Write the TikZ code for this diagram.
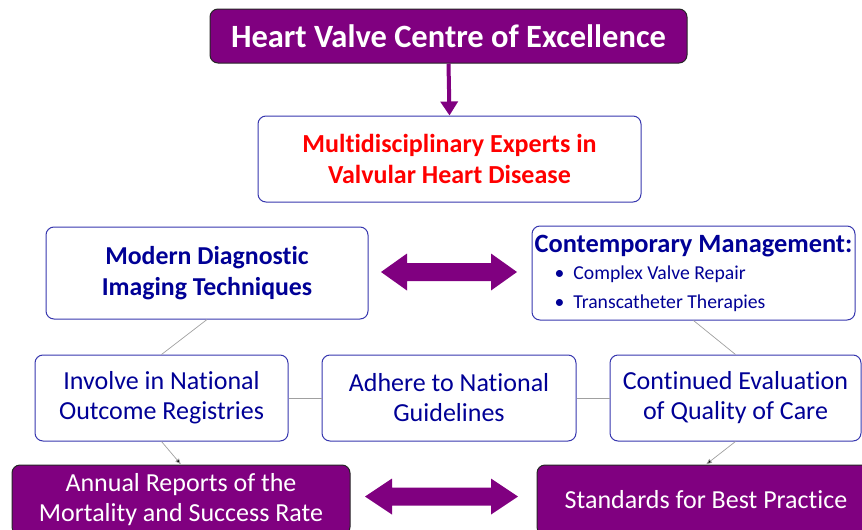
\documentclass[tikz,border=0pt]{standalone}
\usepackage{fontspec}
\setmainfont{Carlito}[Ligatures=NoCommon]
\usetikzlibrary{arrows.meta}
\definecolor{hvpurple}{RGB}{128,0,128}
\definecolor{hvnavy}{RGB}{0,0,150}
\definecolor{hvborder}{RGB}{55,55,175}
\definecolor{hvred}{RGB}{255,0,0}
\definecolor{hvline}{RGB}{160,160,160}
\tikzset{
  wbox/.style={draw=hvborder, line width=1pt, rounded corners=8pt, fill=white, align=center, text=hvnavy, inner sep=3pt},
  pbox/.style={draw=black!85, line width=1pt, rounded corners=8pt, fill=hvpurple, align=center, text=white, inner sep=3pt},
  link/.style={draw=hvline, line width=0.7pt},
  tolink/.style={draw=hvline, line width=0.7pt, -{Latex[length=6pt,width=5pt,fill=black]}},
  dbl/.style={fill=hvpurple, draw=none},
  mainfnt/.style={font=\fontsize{26}{30}\selectfont},
}
\begin{document}
\begin{tikzpicture}[x=1pt,y=-1pt]
\useasboundingbox (0,0) rectangle (862,530);
\clip (0,0) rectangle (862,530);
\node[pbox, minimum width=477pt, minimum height=54pt, font=\fontsize{32.5}{36}\selectfont\bfseries] (top) at (448.5,36) {Heart Valve Centre of Excellence};
\node[wbox, minimum width=383pt, minimum height=86pt, text=hvred, font=\fontsize{26}{31}\selectfont\bfseries] (multi) at (449.5,159) {Multidisciplinary Experts in\\Valvular Heart Disease};
\node[wbox, minimum width=322pt, minimum height=92pt, font=\fontsize{25.8}{31}\selectfont\bfseries] (modern) at (207,273) {Modern Diagnostic\\Imaging Techniques};
\node[wbox, minimum width=323pt, minimum height=94pt, align=left, inner sep=2pt, font=\fontsize{19.7}{28.5}\selectfont] (contemp) at (693.5,273) {{\fontsize{26.4}{28}\selectfont\bfseries Contemporary Management:}\\[-1pt]
\hspace*{20pt}\textbullet\hspace{9pt}Complex Valve Repair\\
\hspace*{20pt}\textbullet\hspace{9pt}Transcatheter Therapies};
\node[wbox, mainfnt, minimum width=253pt, minimum height=86pt] (involve) at (161.5,398) {Involve in National\\Outcome Registries};
\node[wbox, mainfnt, minimum width=254pt, minimum height=86pt] (adhere) at (449,398) {Adhere to National\\Guidelines};
\node[wbox, mainfnt, minimum width=251pt, minimum height=86pt] (cont) at (735.5,398) {Continued Evaluation\\of Quality of Care};
\node[pbox, mainfnt, minimum width=338pt, minimum height=70pt] (annual) at (181,500) {Annual Reports of the\\Mortality and Success Rate};
\node[pbox, mainfnt, minimum width=338pt, minimum height=70pt] (std) at (706,500) {Standards for Best Practice};
\draw[hvpurple, line width=4pt, -{Triangle[width=17pt,length=14pt]}] (top.south) -- (multi.north);
\draw[link] (modern.south) -- (involve.north);
\draw[link] (contemp.south) -- (cont.north);
\draw[link] (involve.east) -- (adhere.west);
\draw[link] (adhere.east) -- (cont.west);
\draw[tolink] (involve.south) -- (annual.north);
\draw[tolink] (cont.south) -- (std.north);
\fill[dbl] (381,272) -- (407,253.5) -- (407,263) -- (491,263) -- (491,253.5) -- (517,272) -- (491,290.5) -- (491,281) -- (407,281) -- (407,290.5) -- cycle;
\fill[dbl] (365,496.5) -- (392,478.5) -- (392,487.5) -- (491,487.5) -- (491,478.5) -- (518,496.5) -- (491,514.5) -- (491,505.5) -- (392,505.5) -- (392,514.5) -- cycle;
\end{tikzpicture}
\end{document}
